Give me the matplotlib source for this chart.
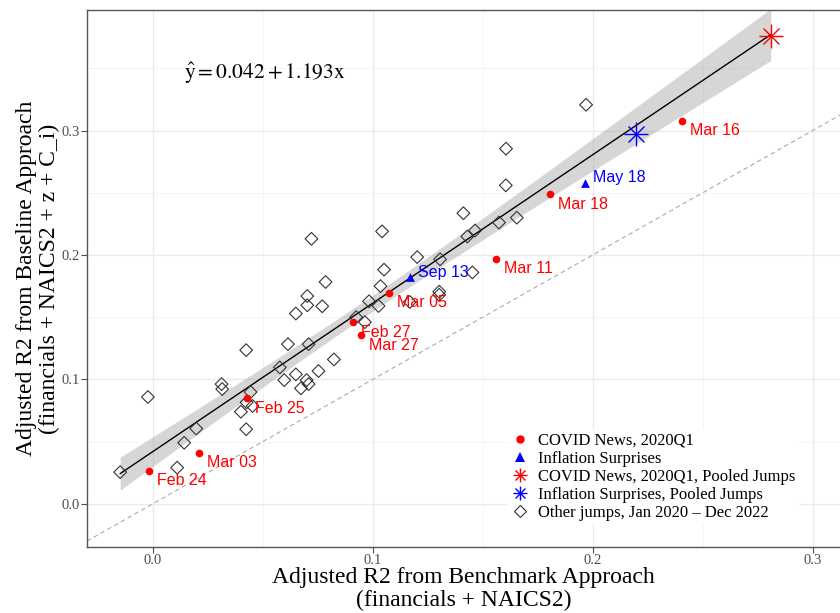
import numpy as np
import matplotlib
matplotlib.use("Agg")
import matplotlib.pyplot as plt
from matplotlib.lines import Line2D
from matplotlib.legend_handler import HandlerTuple

plt.rcParams['mathtext.fontset'] = 'stix'
SERIF = ['Liberation Serif', 'DejaVu Serif']
SANS = ['Liberation Sans', 'DejaVu Sans']

# ---------------- data ----------------
covid_labels = ["Feb 24", "Mar 03", "Feb 25", "Feb 27", "Mar 27", "Mar 05",
                "Mar 11", "Mar 18", "Mar 16"]
covid_x = [-0.0018, 0.0209, 0.0430, 0.0912, 0.0947, 0.1073, 0.1562, 0.1805, 0.2408]
covid_y = [0.0265, 0.0410, 0.0848, 0.1460, 0.1353, 0.1695, 0.1970, 0.2490, 0.3080]

infl_labels = ["Sep 13", "May 18"]
infl_x = [0.1168, 0.1965]
infl_y = [0.1820, 0.2580]

covid_pooled_x = [0.2810]
covid_pooled_y = [0.3760]
infl_pooled_x = [0.2198]
infl_pooled_y = [0.2973]

other_x = [-0.0149, -0.0023, 0.0110, 0.0142, 0.0197, 0.0312, 0.0315, 0.0424,
           0.0444, 0.0426, 0.0453, 0.0400, 0.0424, 0.0577, 0.0597, 0.0614,
           0.0650, 0.0650, 0.0702, 0.0702, 0.0699, 0.0708, 0.0673, 0.0708,
           0.0753, 0.0770, 0.0785, 0.0721, 0.0823, 0.0924, 0.0964, 0.0983,
           0.1026, 0.1035, 0.1051, 0.1042, 0.1202, 0.1306, 0.1302, 0.1302,
           0.1453, 0.1430, 0.1465, 0.1412, 0.1574, 0.1655, 0.1605, 0.1606,
           0.1970, 0.1168]
other_y = [0.0254, 0.0858, 0.0290, 0.0490, 0.0604, 0.0962, 0.0922, 0.1235,
           0.0898, 0.0815, 0.0786, 0.0740, 0.0599, 0.1096, 0.0994, 0.1283,
           0.1040, 0.1529, 0.1670, 0.1596, 0.0994, 0.0962, 0.0928, 0.1283,
           0.1067, 0.1588, 0.1783, 0.2130, 0.1160, 0.1500, 0.1460, 0.1628,
           0.1590, 0.1750, 0.1882, 0.2190, 0.1983, 0.1965, 0.1705, 0.1680,
           0.1860, 0.2149, 0.2197, 0.2336, 0.2261, 0.2300, 0.2560, 0.2855,
           0.3208, 0.1622]

fit_intercept = 0.042
fit_slope = 1.193

x_ticks = [0.0, 0.1, 0.2, 0.3]
y_ticks = [0.0, 0.1, 0.2, 0.3]
legend_labels = ["COVID News, 2020Q1", "Inflation Surprises",
                 "COVID News, 2020Q1, Pooled Jumps",
                 "Inflation Surprises, Pooled Jumps",
                 "Other jumps, Jan 2020 \u2013 Dec 2022"]

# ---------------- figure ----------------
fig = plt.figure(figsize=(8.4, 6.13), dpi=100)
ax = fig.add_axes([87 / 840, 1 - 547 / 613, 1 - 87 / 840, (547 - 10) / 613])

# grid / ticks
ax.set_xticks(x_ticks)
ax.set_yticks(y_ticks)
ax.set_xticks([-0.05 + 0.1 * i for i in range(5)], minor=True)
ax.set_yticks([-0.05 + 0.1 * i for i in range(5)], minor=True)
ax.set_xticklabels([f"{v:.1f}" for v in x_ticks])
ax.set_yticklabels([f"{v:.1f}" for v in y_ticks])
ax.set_xlim(-0.0300, 0.3125)
ax.set_ylim(-0.0348, 0.3970)
ax.grid(True, which='major', color='#EBEBEB', lw=1.0, zorder=0)
ax.grid(True, which='minor', color='#F2F2F2', lw=0.6, zorder=0)
ax.set_axisbelow(True)
ax.tick_params(which='minor', length=0)
ax.tick_params(which='major', length=4, width=0.8, color='#4D4D4D',
               labelcolor='#4D4D4D', labelsize=10.5, pad=1)
for lab in ax.get_xticklabels() + ax.get_yticklabels():
    lab.set_fontfamily(SERIF)

for s in ['left', 'bottom', 'top']:
    ax.spines[s].set_color('#555555')
    ax.spines[s].set_linewidth(1.0)
ax.spines['right'].set_visible(False)

# 45-degree line
ax.axline((0, 0), slope=1, color='#AAAAAA', lw=0.8, ls=(0, (4, 3)), zorder=1)

# regression line + CI band
all_x = np.array(other_x + covid_x + infl_x + covid_pooled_x + infl_pooled_x)
all_y = np.array(other_y + covid_y + infl_y + covid_pooled_y + infl_pooled_y)
n = len(all_x)
resid = all_y - (fit_intercept + fit_slope * all_x)
s = np.sqrt(np.sum(resid ** 2) / (n - 2))
xbar = all_x.mean()
sxx = np.sum((all_x - xbar) ** 2)
xs = np.linspace(all_x.min(), all_x.max(), 200)
yhat = fit_intercept + fit_slope * xs
se = s * np.sqrt(1 / n + (xs - xbar) ** 2 / sxx)
tcrit = 2.0
ax.fill_between(xs, yhat - tcrit * se, yhat + tcrit * se, color='#999999',
                alpha=0.4, lw=0, zorder=2)
ax.plot(xs, yhat, color='black', lw=1.0, zorder=3)

# points
ax.scatter(other_x, other_y, marker='D', s=42, facecolors='none',
           edgecolors='#333333', linewidths=0.8, zorder=4)
ax.scatter(covid_x, covid_y, marker='o', s=30, color='#FF0000', lw=0, zorder=5)
ax.scatter(infl_x, infl_y, marker='^', s=40, color='#0000FF', lw=0, zorder=5)
for px, py, c in [(covid_pooled_x, covid_pooled_y, '#FF0000'),
                  (infl_pooled_x, infl_pooled_y, '#0000FF')]:
    ax.plot(px, py, ls='none', marker='+', ms=17, mew=1.0, color=c, zorder=5)
    ax.plot(px, py, ls='none', marker='x', ms=12, mew=1.0, color=c, zorder=5)

# labels
for lab, x, y in zip(covid_labels, covid_x, covid_y):
    ax.annotate(lab, (x, y), xytext=(8, -10), textcoords='offset pixels',
                ha='left', va='center', color='#FF0000', fontsize=11.5,
                family=SANS, zorder=6)
for lab, x, y in zip(infl_labels, infl_x, infl_y):
    ax.annotate(lab, (x, y), xytext=(8, 5), textcoords='offset pixels',
                ha='left', va='center', color='#0000FF', fontsize=11.5,
                family=SANS, zorder=6)

# equation
ax.text(0.0141, 0.346, r'$\hat{\mathrm{y}} = 0.042 + 1.193\mathrm{x}$',
        fontsize=15.5, ha='left', va='center', color='black')

# axis titles
ax.set_xlabel("Adjusted R2 from Benchmark Approach\n(financials + NAICS2)",
              fontsize=17, family=SERIF, linespacing=1.12, labelpad=0)
ax.set_ylabel("Adjusted R2 from Baseline Approach\n(financials + NAICS2 + z + C_i)",
              fontsize=17, family=SERIF, linespacing=1.12, labelpad=1)

# legend
h_covid = Line2D([], [], ls='none', marker='o', ms=6, color='#FF0000', mew=0)
h_infl = Line2D([], [], ls='none', marker='^', ms=7, color='#0000FF', mew=0)
h_cp = (Line2D([], [], ls='none', marker='+', ms=10, mew=1.0, color='#FF0000'),
        Line2D([], [], ls='none', marker='x', ms=7, mew=1.0, color='#FF0000'))
h_ip = (Line2D([], [], ls='none', marker='+', ms=10, mew=1.0, color='#0000FF'),
        Line2D([], [], ls='none', marker='x', ms=7, mew=1.0, color='#0000FF'))
h_other = Line2D([], [], ls='none', marker='D', ms=6.5, mfc='none',
                 mec='#333333', mew=0.8)
leg = ax.legend([h_covid, h_infl, h_cp, h_ip, h_other], legend_labels,
                handler_map={tuple: HandlerTuple(ndivide=1)},
                loc='upper left', bbox_to_anchor=(0.559, 0.219),
                frameon=True, framealpha=1, edgecolor='none', facecolor='white',
                fancybox=False, prop={'family': SERIF, 'size': 12},
                handlelength=1.0, handletextpad=0.6, labelspacing=0.12,
                borderpad=0.2, borderaxespad=0)

fig.savefig("out.png", dpi=100)
